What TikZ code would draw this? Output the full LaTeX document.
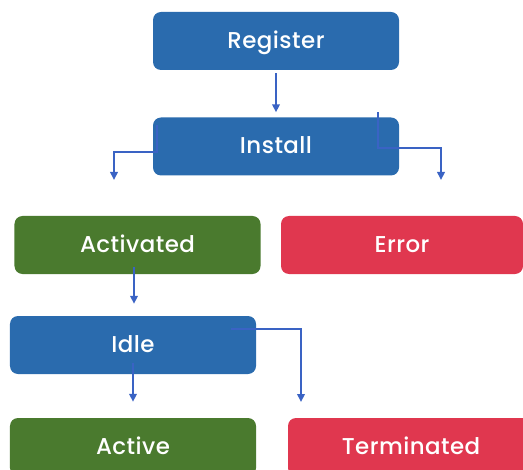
\documentclass[tikz,border=0pt]{standalone}
\usepackage{fontspec}
\setmainfont{Poppins}
\newfontfamily\statefont{Poppins Medium}[LetterSpace=2]
\usetikzlibrary{arrows.meta,calc}
\definecolor{boxblue}{HTML}{2A6BAE}
\definecolor{boxgreen}{HTML}{4A7A2E}
\definecolor{boxred}{HTML}{E0374F}
\definecolor{arrowc}{HTML}{3A63C4}
\begin{document}
\begin{tikzpicture}[x=1bp,y=-1bp,
  box/.style={rounded corners=8bp, minimum width=246bp, minimum height=58bp,
    text=white, font=\statefont\fontsize{23}{26}\selectfont, inner sep=0pt,
    text height=15bp, text depth=0pt},
  bluebox/.style={box, fill=boxblue},
  greenbox/.style={box, fill=boxgreen},
  redbox/.style={box, fill=boxred},
  arr/.style={draw=arrowc, line width=2.2bp, -{Triangle[length=8bp,width=7.5bp]}}]
\useasboundingbox (0,0) rectangle (523,470);
% states
\node[bluebox]  (reg)  at (276,41)    {Register};
\node[bluebox]  (inst) at (276,146.5) {Install};
\node[greenbox] (act)  at (137.5,245) {Activated};
\node[redbox, minimum width=242bp] (err) at (402,245) {Error};
\node[bluebox]  (idle) at (133,345)   {Idle};
\node[greenbox] (actv) at (133,447)   {Active};
\node[redbox]   (term) at (411,447)   {Terminated};
% free ends of the branching connectors
\coordinate (cInL)  at (114,152);
\coordinate (cOutL) at (114,180);
\coordinate (cInR)  at (441,148);
\coordinate (cOutR) at (441,180);
\coordinate (cOutT) at (301,402);
% transitions
\draw[arr] ([yshift=-3bp]reg.south) -- ([yshift=5bp]inst.north);
\draw[arr] ([xshift=4bp,yshift=-8bp]inst.north west) |- (cInL) -- (cOutL);
\draw[arr] ([xshift=-21bp,yshift=5bp]inst.north east) |- (cInR) -- (cOutR);
\draw[arr] ($(act.south)+(-3.5,-7)$) -- ($(idle.north)+(1,-12)$);
\draw[arr] ([xshift=-25bp,yshift=-13bp]idle.north east) -| (cOutT);
\draw[arr] ([yshift=11bp]idle.south) -- ([yshift=16bp]actv.north);
\end{tikzpicture}
\end{document}
